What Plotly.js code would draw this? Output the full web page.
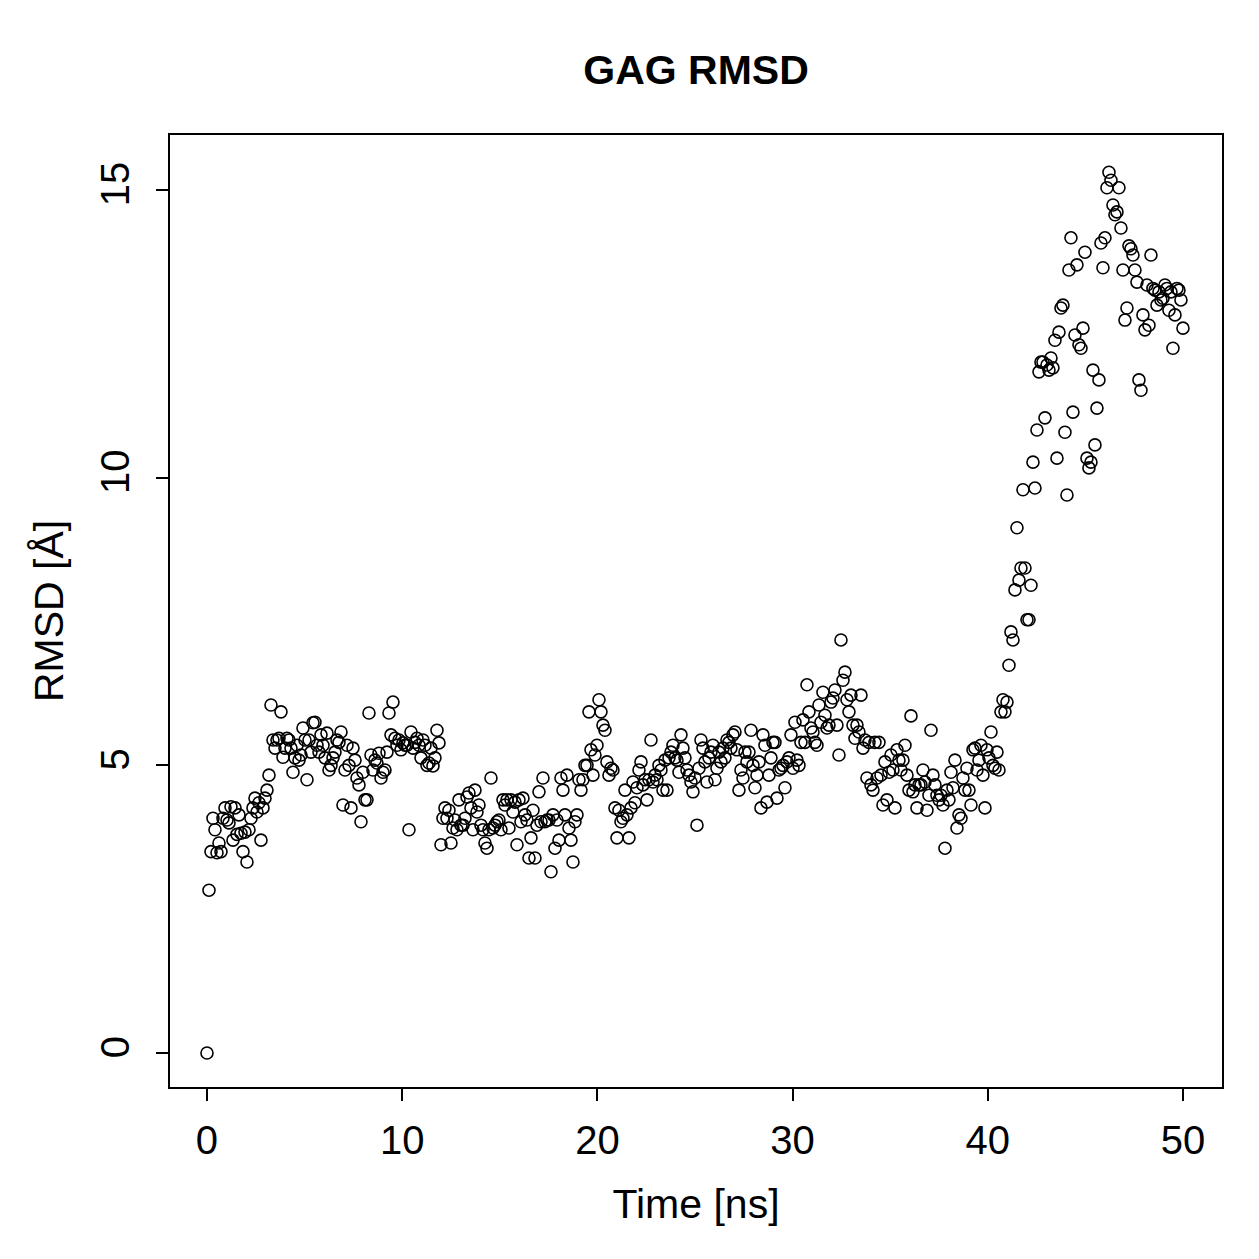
<!DOCTYPE html>
<html>
<head>
<meta charset="utf-8">
<script src="https://cdn.plot.ly/plotly-3.0.1.min.js"></script>
<style>html,body{margin:0;padding:0;background:#fff;}#chart{width:1259px;height:1259px;}</style>
</head>
<body>
<div id="chart"></div>
<script>
// RMSD values (Å), in time order (0 to 50 ns)
const rmsd_0_3 = [0,2.83,3.5,4.08,3.88,3.48,3.65,3.5,4.08,4.26,4.05,4.0,4.28,3.7,4.26,3.8,4.14,3.82,3.5,3.84,3.32,3.88,4.08,4.26,4.43,4.19,4.35,3.7,4.26,4.43];
const rmsd_3_12 = [4.57,4.83,6.05,5.44,5.3,5.44,5.47,5.93,5.14,5.3,5.47,5.44,5.3,4.88,5.13,5.35,5.09,5.18,5.65,5.44,4.75,5.44,5.23,5.74,5.75,5.35,5.23,5.53,5.35,5.13,5.56,4.92,5.0,5.13,5.23,5.44,5.4,5.58,4.31,4.92,5.35,5.0,4.26,5.3,5.09,4.78,4.66,4.02,4.88,4.4,4.4,5.91,5.18,4.92,5.09,5.04,5.21,4.78,4.88,4.92,5.23,5.91,5.53,6.1,5.47,5.35,5.44,5.27,5.39,5.35,5.35,3.88,5.58,5.3,5.4,5.47,5.35,5.13,5.44,5.35,5.0,5.04,5.3,4.99,5.13,5.61,5.39];
const rmsd_12_20 = [3.62,4.08,4.26,4.08,4.22,3.65,3.91,4.05,3.88,4.4,3.96,3.96,4.08,4.45,4.52,4.26,3.88,4.57,4.19,4.31,3.96,3.88,3.65,3.56,3.88,4.78,3.91,3.96,4.02,4.05,3.88,4.4,4.31,4.4,3.91,4.4,4.19,4.36,3.62,4.4,4.02,4.43,4.14,4.05,3.39,3.74,4.22,3.39,3.96,4.54,4.02,4.78,4.02,4.05,4.05,3.15,4.14,3.56,4.05,3.7,4.78,4.57,4.14,4.83,3.91,3.7,3.32,4.02,4.14,4.75,4.57,4.75,5.0,5.0,5.93,5.27,4.83,5.18];
const rmsd_20_30 = [5.35,6.14,5.93,5.7,5.61,5.06,4.83,4.95,4.92,4.26,3.74,4.22,4.02,4.08,4.57,4.14,3.74,4.26,4.71,4.35,4.61,4.92,5.06,4.66,4.75,4.4,4.75,5.44,4.71,4.83,4.75,5.0,4.92,4.57,5.09,4.57,5.13,5.23,5.35,5.13,5.09,4.88,5.53,5.3,5.13,4.92,4.83,4.71,4.54,4.78,3.96,4.95,5.44,5.3,5.06,4.71,5.13,5.23,5.35,4.75,4.95,5.23,5.06,5.3,5.13,5.44,5.4,5.3,5.53,5.58,5.27,4.57,4.92,4.78,5.23,5.06,5.23,5.61,5.0,4.61,4.83,5.06,4.26,5.53,5.35,4.36,4.83,5.13,5.4,5.4,4.43,4.92,4.95,5.0,4.61,5.06,5.13];
const rmsd_30_40 = [5.53,4.95,5.75,5.09,5.0,5.4,5.79,5.4,6.4,5.93,5.65,5.58,5.4,5.35,6.05,5.75,6.27,5.87,5.65,5.7,6.1,6.17,6.31,5.7,5.18,7.18,6.48,6.62,6.14,5.93,6.22,5.7,5.47,5.7,5.58,6.22,5.3,5.44,4.78,5.4,4.66,4.57,5.4,4.78,5.4,4.83,4.31,5.06,4.4,4.88,5.18,4.92,4.26,5.27,5.09,4.92,5.09,5.35,4.83,4.57,5.86,4.54,4.66,4.26,4.66,4.66,4.92,4.71,4.22,4.48,5.61,4.83,4.66,4.48,4.4,4.48,4.31,3.56,4.57,4.4,4.88,4.61,5.09,3.91,4.14,4.08,4.78,4.57,4.95,4.57,4.31,5.27,5.3,4.92,5.09,5.35,4.83,4.26];
const rmsd_40_50 = [5.27,5.13,5.58,5.0,4.95,5.23,4.92,5.93,6.14,5.93,6.1,6.74,7.32,7.18,8.05,9.13,8.22,8.43,9.79,8.43,7.53,7.53,8.13,10.27,9.82,10.83,11.84,12.01,12.01,11.04,11.96,11.87,12.08,11.91,12.39,10.34,12.53,12.95,13.0,10.79,9.7,13.61,14.17,11.14,12.48,13.7,12.31,12.25,12.6,13.92,10.34,10.17,10.27,11.87,10.57,11.21,11.7,14.08,13.65,14.17,15.04,15.31,15.17,14.74,14.57,14.62,15.04,14.34,13.61,12.74,12.95,14.03,13.98,13.87,13.61,13.4,11.7,11.52,12.83,12.57,13.35,12.65,13.87,13.29,13.26,13.0,13.23,13.09,13.12,13.35,13.29,12.91,13.23,12.25,12.83,13.29,13.26,13.09,12.6];

const rmsd = [].concat(rmsd_0_3, rmsd_3_12, rmsd_12_20, rmsd_20_30, rmsd_30_40, rmsd_40_50);
const tStart = 0, tEnd = 50;
const time = rmsd.map((_, i) => tStart + (tEnd - tStart) * i / (rmsd.length - 1));

const xTicks = [0, 10, 20, 30, 40, 50];
const yTicks = [0, 5, 10, 15];

const FONT = "Liberation Sans, Arial, Helvetica, sans-serif";

const trace = {
  x: time, y: rmsd, type: 'scatter', mode: 'markers',
  marker: {symbol: 'circle-open', size: 12, color: '#000', line: {width: 1.6, color: '#000'}},
  hoverinfo: 'skip'
};

const layout = {
  width: 1259, height: 1259,
  margin: {l: 170, r: 37, t: 135, b: 172, pad: 0},
  paper_bgcolor: '#fff', plot_bgcolor: '#fff',
  showlegend: false,
  font: {family: FONT, size: 40, color: '#000'},
  title: {text: '<b>GAG RMSD</b>', font: {family: FONT, size: 41, color: '#000'},
          x: 0.5, xanchor: 'center', y: 1 - 70/1259, yanchor: 'middle', xref: 'paper', yref: 'container'},
  xaxis: {
    range: [-1.895, 52.0], showgrid: false, zeroline: false,
    showline: true, linecolor: '#000', linewidth: 2, mirror: true,
    ticks: 'outside', ticklen: 12, tickwidth: 2, tickcolor: '#000',
    tickvals: xTicks, ticktext: xTicks.map(String),
    tickfont: {family: FONT, size: 40, color: '#000'},
    ticklabelstandoff: 5,
    title: {text: 'Time [ns]', font: {family: FONT, size: 41, color: '#000'}, standoff: 28}
  },
  yaxis: {
    range: [-0.591, 15.957], showgrid: false, zeroline: false,
    showline: true, linecolor: '#000', linewidth: 2, mirror: true,
    ticks: 'outside', ticklen: 12, tickwidth: 2, tickcolor: '#000',
    tickvals: yTicks, ticktext: yTicks.map(String), tickangle: -90,
    tickfont: {family: FONT, size: 40, color: '#000'},
    ticklabelstandoff: 11,
    title: {text: 'RMSD [Å]', font: {family: FONT, size: 41, color: '#000'}, standoff: 17}
  }
};

Plotly.newPlot('chart', [trace], layout, {staticPlot: true, displayModeBar: false});
</script>
</body>
</html>
